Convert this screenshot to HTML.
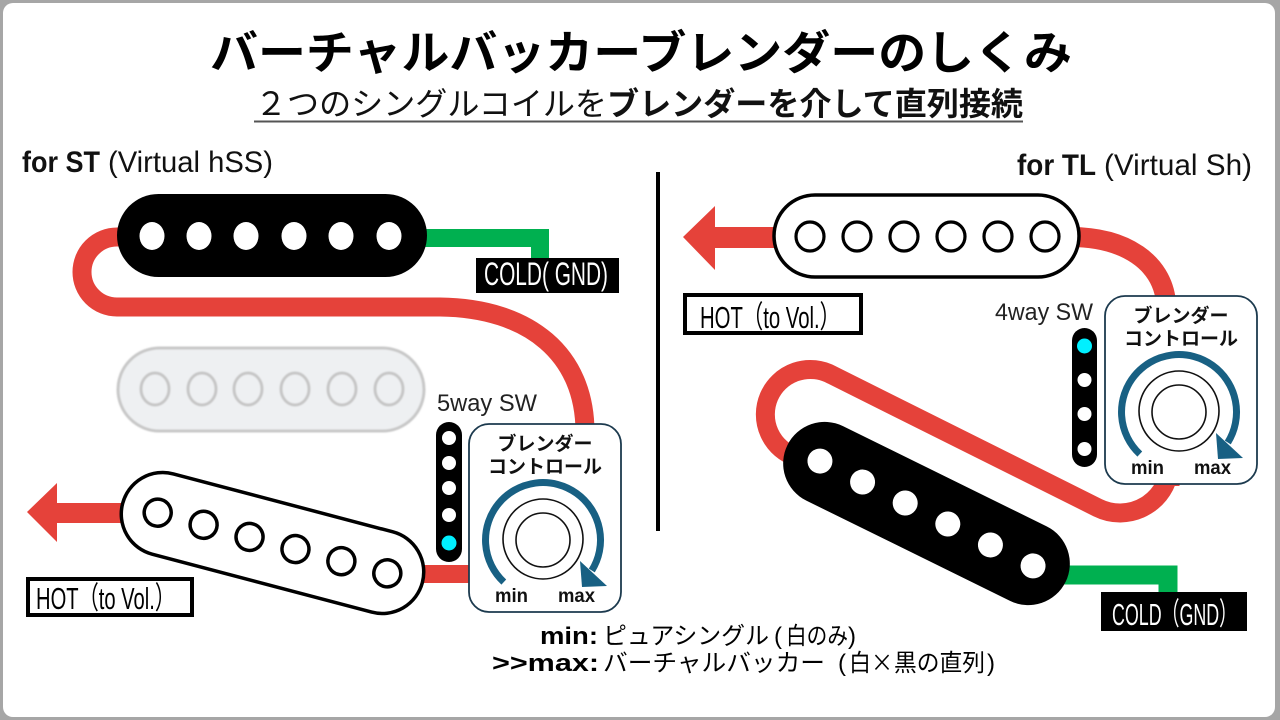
<!DOCTYPE html>
<html><head><meta charset="utf-8"><style>
html,body{margin:0;padding:0;background:#a6a6a6;}
svg{display:block;}
text{font-family:"Liberation Sans","Noto Sans CJK JP",sans-serif;}
</style></head><body>
<svg width="1280" height="720" viewBox="0 0 1280 720" xmlns="http://www.w3.org/2000/svg">
<defs>
<filter id="soft" x="-10%" y="-10%" width="120%" height="120%"><feGaussianBlur stdDeviation="0.9"/></filter>
<g id="knob">
  <rect x="469" y="424" width="152" height="188" rx="20" fill="#fff" stroke="#1c3a4e" stroke-width="1.8"/>
  <text x="545" y="450" font-size="19" font-weight="700" text-anchor="middle" fill="#111">ブレンダー</text>
  <text x="545" y="473" font-size="19" font-weight="700" text-anchor="middle" fill="#111">コントロール</text>
  <path d="M 503.8 582.1 A 57.5 57.5 0 1 1 591.8 570.5" fill="none" stroke="#186083" stroke-width="7"/>
  <polygon points="580,561 582,587 607,586" fill="#186083"/>
  <circle cx="543" cy="539" r="40" fill="none" stroke="#111" stroke-width="1.6"/>
  <circle cx="543" cy="540" r="27" fill="none" stroke="#111" stroke-width="1.6"/>
  <text x="495" y="602" font-size="19" font-weight="700" fill="#111" textLength="33" lengthAdjust="spacingAndGlyphs">min</text>
  <text x="558" y="602" font-size="19" font-weight="700" fill="#111" textLength="37" lengthAdjust="spacingAndGlyphs">max</text>
</g>
</defs>

<rect x="3" y="3" width="1272" height="714" rx="10" fill="#fff"/>

<!-- Title -->
<text x="210" y="69" font-size="46" font-weight="700" fill="#000" textLength="862" lengthAdjust="spacingAndGlyphs">バーチャルバッカーブレンダーのしくみ</text>
<text x="255" y="115" font-size="32" font-weight="400" fill="#111" textLength="352" lengthAdjust="spacingAndGlyphs">２つのシングルコイルを</text>
<text x="607" y="115" font-size="32" font-weight="700" fill="#111" textLength="416" lengthAdjust="spacingAndGlyphs">ブレンダーを介して直列接続</text>
<rect x="254" y="120.5" width="769" height="2" fill="#555"/>

<!-- section labels -->
<text x="22" y="172" font-size="30" font-weight="700" fill="#111" textLength="78" lengthAdjust="spacingAndGlyphs">for ST</text>
<text x="108" y="172" font-size="30" fill="#111" textLength="165" lengthAdjust="spacingAndGlyphs">(Virtual hSS)</text>
<text x="1017" y="175" font-size="30" font-weight="700" fill="#111" textLength="79" lengthAdjust="spacingAndGlyphs">for TL</text>
<text x="1104" y="175" font-size="30" fill="#111" textLength="148" lengthAdjust="spacingAndGlyphs">(Virtual Sh)</text>

<!-- divider -->
<rect x="656" y="172" width="4" height="359" fill="#000"/>

<!-- ============ LEFT ============ -->
<path d="M 140 237 H 117 A 35 35 0 0 0 117 307 H 440 C 530 308 585 355 585 432" fill="none" stroke="#e5423a" stroke-width="19"/>
<path d="M 395 574 H 475" fill="none" stroke="#e5423a" stroke-width="18"/>
<path d="M 420 238 H 540 V 262" fill="none" stroke="#00b050" stroke-width="18"/>
<rect x="55" y="503" width="85" height="20" fill="#e5423a"/>
<polygon points="27,512 57,483 57,542" fill="#e5423a"/>

<rect x="117" y="194" width="310" height="83" rx="41.5" fill="#000"/>
<g fill="#fff">
<ellipse cx="152" cy="236" rx="12.5" ry="14"/>
<ellipse cx="199" cy="236" rx="12.5" ry="14"/>
<ellipse cx="246" cy="236" rx="12.5" ry="14"/>
<ellipse cx="294" cy="236" rx="12.5" ry="14"/>
<ellipse cx="341" cy="236" rx="12.5" ry="14"/>
<ellipse cx="389" cy="236" rx="12.5" ry="14"/>
</g>

<g filter="url(#soft)">
<rect x="118" y="348" width="306" height="83" rx="41.5" fill="#eef0f2" stroke="#c8c8c8" stroke-width="3"/>
<g fill="none" stroke="#c6c6c6" stroke-width="3">
<ellipse cx="155" cy="389" rx="14" ry="16"/>
<ellipse cx="202" cy="389" rx="14" ry="16"/>
<ellipse cx="248" cy="389" rx="14" ry="16"/>
<ellipse cx="295" cy="389" rx="14" ry="16"/>
<ellipse cx="342" cy="389" rx="14" ry="16"/>
<ellipse cx="389" cy="389" rx="14" ry="16"/>
</g>
</g>

<g transform="translate(272.5,543) rotate(14.8)">
<rect x="-155" y="-41.5" width="310" height="83" rx="41.5" fill="#fff" stroke="#000" stroke-width="3.5"/>
<g fill="#fff" stroke="#000" stroke-width="3.5">
<circle cx="-118.75" cy="0" r="13.5"/>
<circle cx="-71.25" cy="0" r="13.5"/>
<circle cx="-23.75" cy="0" r="13.5"/>
<circle cx="23.75" cy="0" r="13.5"/>
<circle cx="71.25" cy="0" r="13.5"/>
<circle cx="118.75" cy="0" r="13.5"/>
</g>
</g>

<text x="437" y="411" font-size="24" fill="#222" textLength="100" lengthAdjust="spacingAndGlyphs">5way SW</text>
<rect x="436" y="422" width="26" height="140" rx="13" fill="#000"/>
<g fill="#fff">
<circle cx="449" cy="438" r="7"/>
<circle cx="449" cy="463" r="7"/>
<circle cx="449" cy="488" r="7"/>
<circle cx="449" cy="515" r="7"/>
</g>
<circle cx="449" cy="543" r="7.5" fill="#00f0ff"/>

<use href="#knob"/>

<rect x="476" y="258" width="143" height="35" fill="#000"/>
<text x="484" y="285" font-size="32" fill="#fff" textLength="124" lengthAdjust="spacingAndGlyphs">COLD( GND)</text>
<rect x="28" y="579" width="164" height="36" fill="#fff" stroke="#000" stroke-width="4"/>
<text x="36" y="609" font-size="31" fill="#000" textLength="139" lengthAdjust="spacingAndGlyphs">HOT（to Vol.）</text>

<!-- ============ RIGHT ============ -->
<path d="M 1070 237 C 1125 237 1162 262 1166 302" fill="none" stroke="#e5423a" stroke-width="20"/>
<path d="M 1170 486 V 463 A 50 50 0 0 1 1097.7 507.7 L 832 375 A 45 45 0 1 0 796.6 457.3" fill="none" stroke="#e5423a" stroke-width="19"/>
<path d="M 1040 575 H 1168 V 596" fill="none" stroke="#00b050" stroke-width="19"/>
<rect x="713" y="227" width="72" height="21" fill="#e5423a"/>
<polygon points="683,237 715,206 715,270" fill="#e5423a"/>

<rect x="774" y="195" width="305" height="82" rx="41" fill="#fff" stroke="#000" stroke-width="3.5"/>
<g fill="#fff" stroke="#000" stroke-width="3.2">
<ellipse cx="810" cy="236.5" rx="14" ry="14.5"/>
<ellipse cx="857" cy="236.5" rx="14" ry="14.5"/>
<ellipse cx="904" cy="236.5" rx="14" ry="14.5"/>
<ellipse cx="951" cy="236.5" rx="14" ry="14.5"/>
<ellipse cx="998" cy="236.5" rx="14" ry="14.5"/>
<ellipse cx="1045" cy="236.5" rx="14" ry="14.5"/>
</g>

<g transform="translate(926.5,513.5) rotate(26.2)">
<rect x="-155" y="-41.5" width="310" height="83" rx="41.5" fill="#000"/>
<g fill="#fff">
<circle cx="-118.75" cy="0" r="12.5"/>
<circle cx="-71.25" cy="0" r="12.5"/>
<circle cx="-23.75" cy="0" r="12.5"/>
<circle cx="23.75" cy="0" r="12.5"/>
<circle cx="71.25" cy="0" r="12.5"/>
<circle cx="118.75" cy="0" r="12.5"/>
</g>
</g>

<text x="995" y="320" font-size="24" fill="#222" textLength="98" lengthAdjust="spacingAndGlyphs">4way SW</text>
<rect x="1072" y="328" width="25" height="139" rx="12.5" fill="#000"/>
<circle cx="1084.5" cy="346" r="7.5" fill="#00f0ff"/>
<g fill="#fff">
<circle cx="1084.5" cy="380" r="7"/>
<circle cx="1084.5" cy="414" r="7"/>
<circle cx="1084.5" cy="449" r="7"/>
</g>

<g transform="translate(636,-128)"><use href="#knob"/></g>

<rect x="685" y="295" width="176" height="38" fill="#fff" stroke="#000" stroke-width="4"/>
<text x="700" y="328" font-size="31" fill="#000" textLength="140" lengthAdjust="spacingAndGlyphs">HOT（to Vol.）</text>
<rect x="1101" y="592" width="146" height="39" fill="#000"/>
<text x="1112" y="625" font-size="31" fill="#fff" textLength="125" lengthAdjust="spacingAndGlyphs">COLD（GND）</text>

<!-- bottom notes -->
<text y="644" font-size="24" fill="#000">
<tspan x="540" font-weight="700" textLength="58" lengthAdjust="spacingAndGlyphs">min:</tspan>
<tspan x="603" textLength="166" lengthAdjust="spacingAndGlyphs">ピュアシングル</tspan>
<tspan x="774">(</tspan>
<tspan x="786" textLength="62" lengthAdjust="spacingAndGlyphs">白のみ</tspan>
<tspan x="848">)</tspan>
</text>
<text y="671" font-size="24" fill="#000">
<tspan x="492" font-weight="700" textLength="107" lengthAdjust="spacingAndGlyphs">&gt;&gt;max:</tspan>
<tspan x="603" textLength="222" lengthAdjust="spacingAndGlyphs">バーチャルバッカー</tspan>
<tspan x="838">(</tspan>
<tspan x="849" textLength="22" lengthAdjust="spacingAndGlyphs">白</tspan>
<tspan x="871" style="font-family:'Noto Sans CJK JP',sans-serif" textLength="22" lengthAdjust="spacingAndGlyphs">×</tspan>
<tspan x="894" textLength="91" lengthAdjust="spacingAndGlyphs">黒の直列</tspan>
<tspan x="987">)</tspan>
</text>
</svg>
</body></html>
